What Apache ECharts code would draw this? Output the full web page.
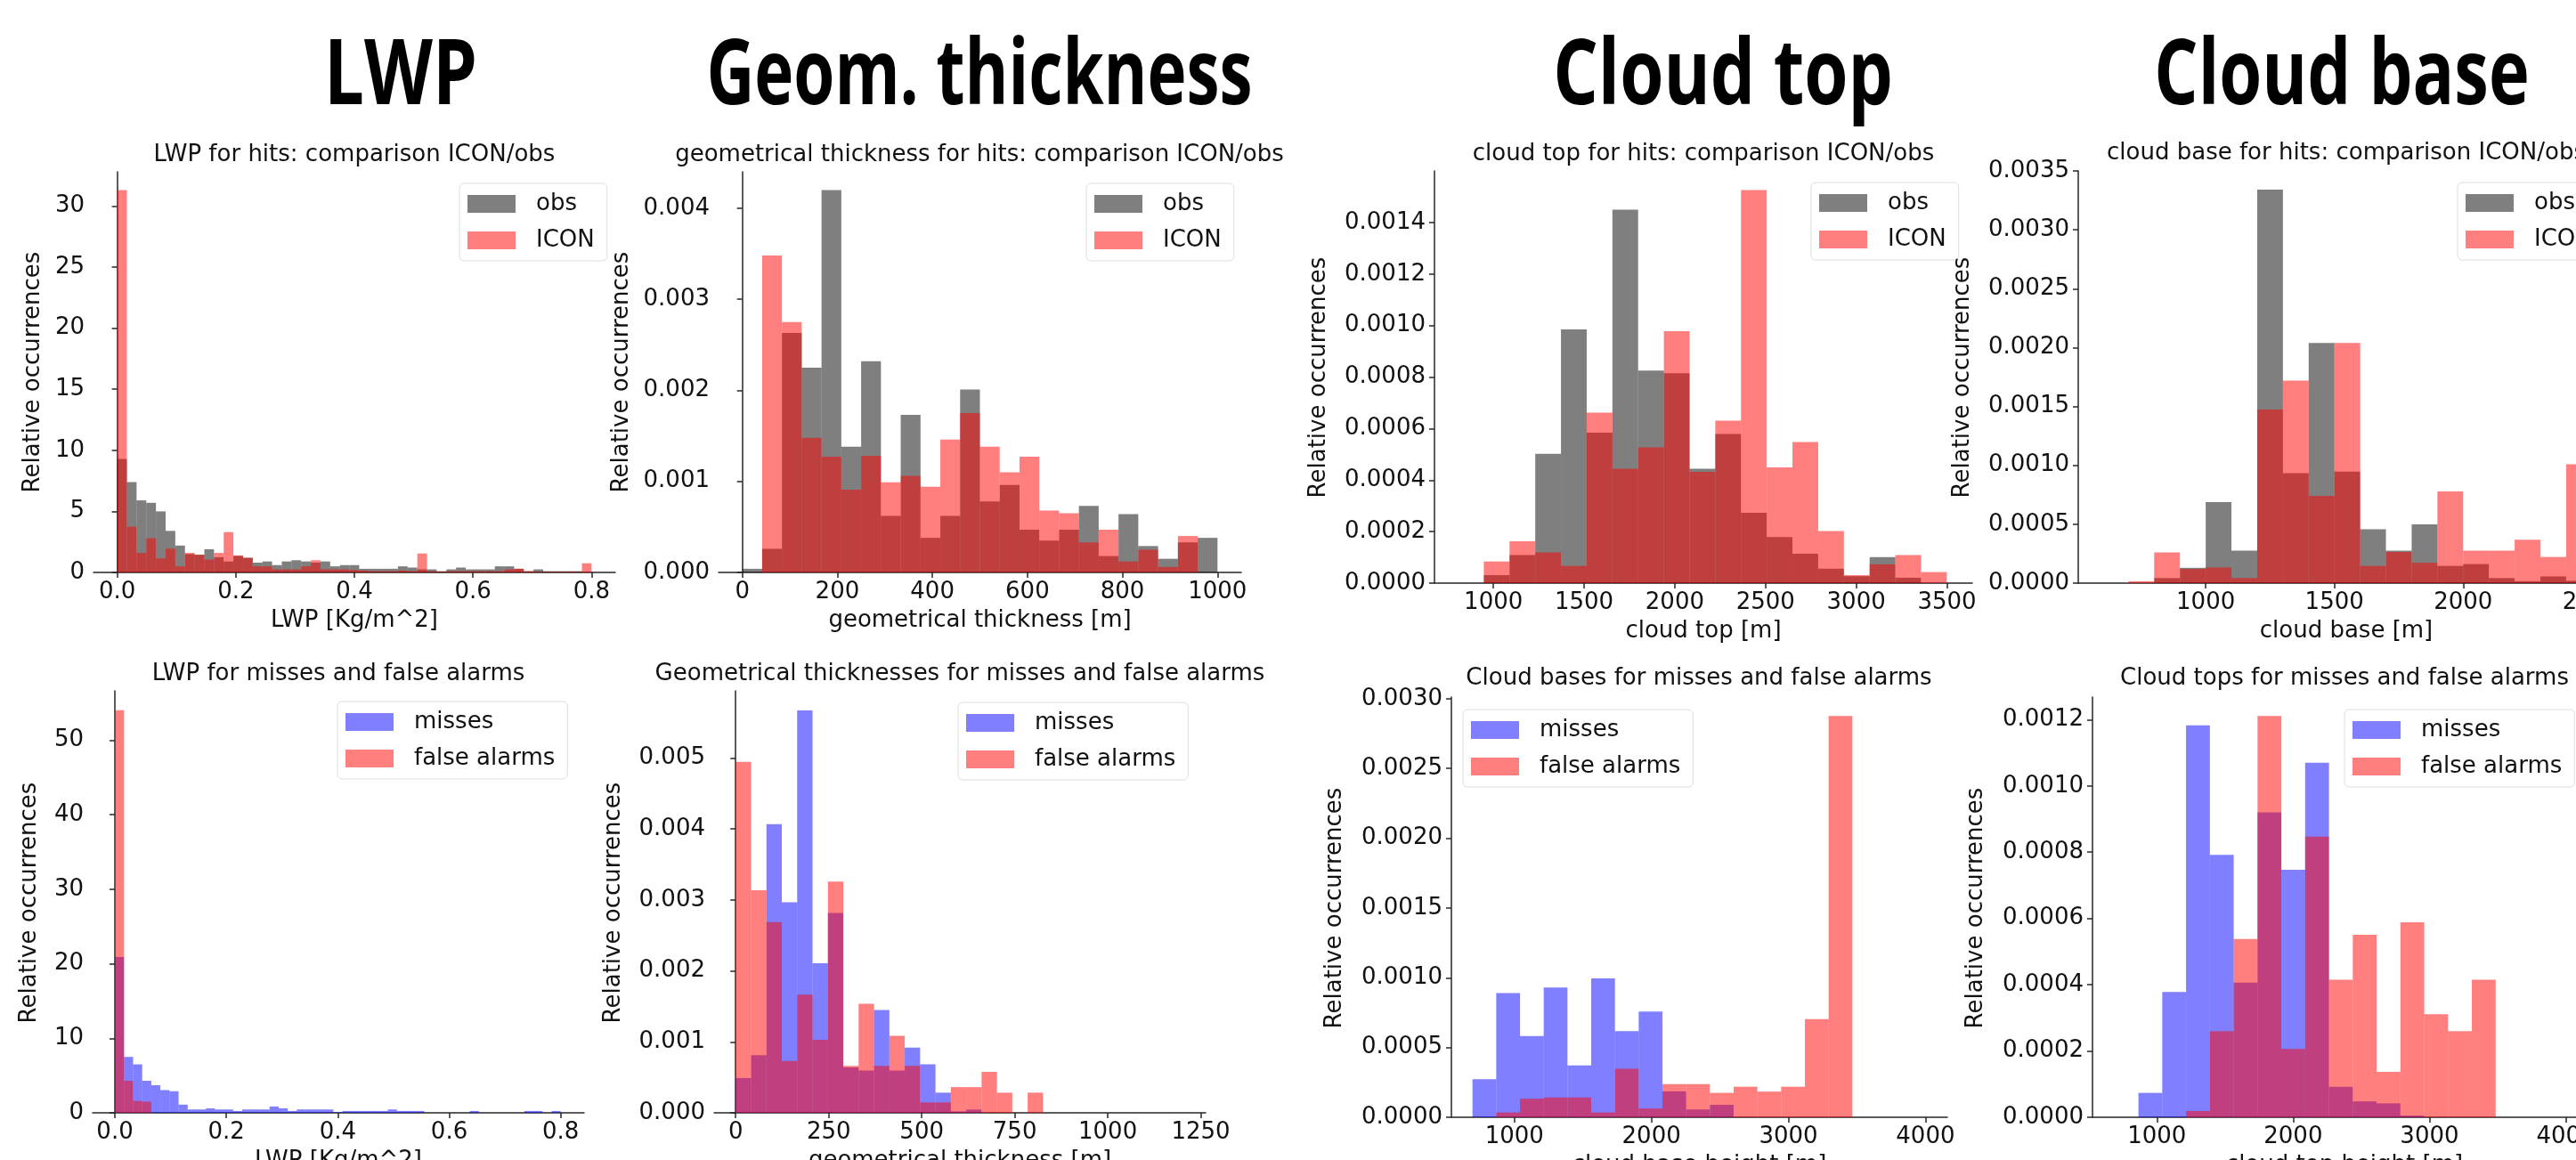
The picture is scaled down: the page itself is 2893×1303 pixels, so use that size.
<!DOCTYPE html>
<html>
<head>
<meta charset="utf-8">
<script src="https://cdn.jsdelivr.net/npm/echarts@6/dist/echarts.min.js"></script>
<style>
    html, body { margin: 0; padding: 0; background: #fff; }
    #chart { width: 2893px; height: 1303px; }
</style>
</head>
<body>
<div id="chart"></div>
<script>
// ---- values (relative occurrences per bin) ----
var lwpHitsObs = [9.3, 7.4, 5.9, 5.7, 5.0, 3.4, 2.2, 1.5, 1.45, 1.9, 1.25, 0.9, 1.35, 1.2, 0.8, 0.9, 0.6, 0.9, 1.0, 0.9,
    0.8, 0.9, 0.5, 0.6, 0.6, 0.3, 0.3, 0.3, 0.3, 0.5, 0.4, 0.25, 0.25, 0.1, 0.25, 0.4, 0.25, 0.25, 0.25, 0.5,
    0.5, 0.3, 0.1, 0.25, 0.1, 0.1, 0.1, 0.1, 0.05];
var lwpHitsIcon = [31.3, 3.75, 1.6, 2.8, 1.15, 1.95, 0.5, 1.6, 1.45, 1.05, 1.6, 3.3, 1.4, 1.2, 0.5, 0.5, 0.25, 0.25, 0.25, 0.5,
    1.0, 0.25, 0.25, 0.25, 0.2, 0.15, 0.1, 0.1, 0.1, 0.15, 0.1, 1.55, 0.1, 0.05, 0.1, 0.1, 0.1, 0.1, 0.1, 0.1,
    0.25, 0.3, 0.1, 0.05, 0.05, 0.05, 0.05, 0.05, 0.75];

var geomHitsObs = [0.00004, 0.00026, 0.00263, 0.00225, 0.0042, 0.00138, 0.00232, 0.00062, 0.00173, 0.00038, 0.00062, 0.00201,
    0.00078, 0.00096, 0.00047, 0.00035, 0.00047, 0.00073, 0.00018, 0.00064, 0.00029, 0.00015, 0.00033, 0.00038];
var geomHitsIcon = [0, 0.00348, 0.00275, 0.00148, 0.00127, 0.00091, 0.00128, 0.00099, 0.00106, 0.00094, 0.00146, 0.00175,
    0.00138, 0.0011, 0.00127, 0.00068, 0.00065, 0.00033, 0.00047, 0.00012, 0.00025, 0.00006, 0.0004, 0];

var topHitsObs = [0.000031, 0.000109, 0.000502, 0.000985, 0.000584, 0.00145, 0.000825, 0.000815, 0.000444, 0.000579,
    0.000273, 0.000179, 0.000114, 0.000056, 0.000027, 0.000101, 0.000021, 0];
var topHitsIcon = [0.000084, 0.000162, 0.000119, 0.000067, 0.000662, 0.000444, 0.000527, 0.000978, 0.000432, 0.000631,
    0.001526, 0.000449, 0.000548, 0.000202, 0.000031, 0.000073, 0.000109, 0.000043];

var baseHitsObs = [0, 0.000043, 0.00013, 0.000687, 0.000276, 0.003342, 0.000933, 0.002039, 0.000946, 0.000457,
    0.000276, 0.000498, 0.000146, 0.000162, 0.000043, 0.000016, 0.000057, 0.00002];
var baseHitsIcon = [0.000016, 0.00026, 0.00012, 0.000133, 0.000043, 0.001474, 0.00172, 0.000741, 0.00204, 0.000146,
    0.000265, 0.000173, 0.000779, 0.000276, 0.000276, 0.000368, 0.000222, 0.00101];

var lwpMisses = [20.9, 7.5, 6.5, 4.3, 3.7, 3.05, 2.9, 1.1, 0.45, 0.45, 0.6, 0.45, 0.45, 0.25, 0.45, 0.45, 0.45, 0.85, 0.6, 0.25,
    0.45, 0.45, 0.45, 0.45, 0.1, 0.25, 0.25, 0.25, 0.25, 0.25, 0.45, 0.25, 0.25, 0.25, 0, 0, 0, 0, 0, 0.25,
    0, 0, 0, 0, 0, 0.25, 0.25, 0, 0.25];
var lwpFalse = [54, 4.3, 1.6, 1.5, 0, 0, 0, 0, 0, 0, 0, 0, 0, 0, 0, 0, 0, 0, 0, 0,
    0, 0, 0, 0, 0, 0, 0, 0, 0, 0, 0, 0, 0, 0, 0, 0, 0, 0, 0, 0,
    0, 0, 0, 0, 0, 0, 0, 0, 0];

var geomMisses = [0.00049, 0.000811, 0.004065, 0.002965, 0.005669, 0.002108, 0.002814, 0.00064, 0.000596, 0.001448,
    0.000596, 0.000917, 0.000683, 0.000284, 0.00002, 0.000046, 0, 0, 0, 0];
var geomFalse = [0.004945, 0.003135, 0.002686, 0.000729, 0.001664, 0.001027, 0.003258, 0.00066, 0.001535, 0.00066,
    0.001086, 0.00066, 0.000147, 0.000147, 0.000362, 0.000362, 0.000577, 0.000284, 0, 0.000284];

var baseMisses = [0.000273, 0.00089, 0.000583, 0.00093, 0.000371, 0.000995, 0.000618, 0.000758, 0.000186, 0.000056,
    0.000089, 0, 0, 0, 0, 0];
var baseFalse = [0, 0.000035, 0.000133, 0.000142, 0.000142, 0.000035, 0.000347, 0.000063, 0.000238, 0.000238,
    0.000175, 0.000219, 0.000184, 0.000219, 0.000704, 0.002876];

var topMisses = [0.0000736, 0.000378, 0.001183, 0.000792, 0.000406, 0.00092, 0.000747, 0.00107, 0.000092, 0.000048,
    0.000042, 0.000005, 0, 0, 0];
var topFalse = [0, 0, 0.000019, 0.00026, 0.000538, 0.001211, 0.000206, 0.000847, 0.000415, 0.000551,
    0.000137, 0.000588, 0.000311, 0.00026, 0.000415];

// ---- tick labels ----
var lwpTicks = [0, 0.2, 0.4, 0.6, 0.8];
var geomHitsTicks = [0, 200, 400, 600, 800, 1000];
var topHitsTicks = [1000, 1500, 2000, 2500, 3000, 3500];
var baseHitsTicks = [1000, 1500, 2000, 2500];
var geomMissTicks = [0, 250, 500, 750, 1000, 1250];
var heightMissTicks = [1000, 2000, 3000, 4000];

var yLwpHits = [0, 5, 10, 15, 20, 25, 30];
var yGeomHits = [0, 0.001, 0.002, 0.003, 0.004];
var yTopHits = [0, 0.0002, 0.0004, 0.0006, 0.0008, 0.001, 0.0012, 0.0014];
var yBaseHits = [0, 0.0005, 0.001, 0.0015, 0.002, 0.0025, 0.003, 0.0035];
var yLwpMiss = [0, 10, 20, 30, 40, 50];
var yGeomMiss = [0, 0.001, 0.002, 0.003, 0.004, 0.005];
var yBaseMiss = [0, 0.0005, 0.001, 0.0015, 0.002, 0.0025, 0.003];
var yTopMiss = [0, 0.0002, 0.0004, 0.0006, 0.0008, 0.001, 0.0012];

var columnTitles = ['LWP', 'Geom. thickness', 'Cloud top', 'Cloud base'];

var GRAY = 'rgba(0,0,0,0.5)';
var RED = 'rgba(255,0,0,0.5)';
var BLUE = 'rgba(0,0,255,0.5)';
var FONT = "'DejaVu Sans', sans-serif";
var INK = '#111';

var panels = [
    {title: 'LWP for hits: comparison ICON/obs', xName: 'LWP [Kg/m^2]',
        left: 105, top: 193, width: 586, height: 450, xMin: -0.04, xMax: 0.84, yMax: 32.8,
        xTicks: lwpTicks, xDec: 1, yTicks: yLwpHits, yDec: 0, binStart: 0, binStep: 0.8 / 49,
        a: lwpHitsObs, b: lwpHitsIcon, names: ['obs', 'ICON'], colors: [GRAY, RED],
        legend: [516, 206], titlePos: [398, 174], xNameY: 697, yNamePos: [37, 418]},
    {title: 'geometrical thickness for hits: comparison ICON/obs', xName: 'geometrical thickness [m]',
        left: 807, top: 193, width: 587, height: 450, xMin: -50, xMax: 1050, yMax: 0.0044,
        xTicks: geomHitsTicks, xDec: 0, yTicks: yGeomHits, yDec: 3, binStart: 0, binStep: 1000 / 24,
        a: geomHitsObs, b: geomHitsIcon, names: ['obs', 'ICON'], colors: [GRAY, RED],
        legend: [1220, 206], titlePos: [1100, 174], xNameY: 697, yNamePos: [698, 418]},
    {title: 'cloud top for hits: comparison ICON/obs', xName: 'cloud top [m]',
        left: 1611, top: 192, width: 604, height: 463, xMin: 675, xMax: 3640, yMax: 0.0016,
        xTicks: topHitsTicks, xDec: 0, yTicks: yTopHits, yDec: 4, binStart: 947, binStep: 141.8,
        a: topHitsObs, b: topHitsIcon, names: ['obs', 'ICON'], colors: [GRAY, RED],
        legend: [2034, 205], titlePos: [1913, 173], xNameY: 709, yNamePos: [1481, 424]},
    {title: 'cloud base for hits: comparison ICON/obs', xName: 'cloud base [m]',
        left: 2334, top: 192, width: 602, height: 463, xMin: 505, xMax: 2587, yMax: 0.0035,
        xTicks: baseHitsTicks, xDec: 0, yTicks: yBaseHits, yDec: 4, binStart: 700, binStep: 100,
        a: baseHitsObs, b: baseHitsIcon, names: ['obs', 'ICON'], colors: [GRAY, RED],
        legend: [2760, 205], titlePos: [2635, 172], xNameY: 709, yNamePos: [2204, 424]},
    {title: 'LWP for misses and false alarms', xName: 'LWP [Kg/m^2]',
        left: 104, top: 776, width: 552, height: 474, xMin: -0.04, xMax: 0.842, yMax: 56.6,
        xTicks: lwpTicks, xDec: 1, yTicks: yLwpMiss, yDec: 0, binStart: 0, binStep: 0.8 / 49,
        a: lwpMisses, b: lwpFalse, names: ['misses', 'false alarms'], colors: [BLUE, RED],
        legend: [379, 788], titlePos: [380, 757], xNameY: 1304, yNamePos: [33, 1014]},
    {title: 'Geometrical thicknesses for misses and false alarms', xName: 'geometrical thickness [m]',
        left: 802, top: 776, width: 552, height: 474, xMin: -58, xMax: 1263, yMax: 0.005944,
        xTicks: geomMissTicks, xDec: 0, yTicks: yGeomMiss, yDec: 3, binStart: 0, binStep: 41.3,
        a: geomMisses, b: geomFalse, names: ['misses', 'false alarms'], colors: [BLUE, RED],
        legend: [1076, 789], titlePos: [1078, 757], xNameY: 1304, yNamePos: [689, 1014]},
    {title: 'Cloud bases for misses and false alarms', xName: 'cloud base height [m]',
        left: 1630, top: 783, width: 557, height: 472, xMin: 540, xMax: 4160, yMax: 0.003012,
        xTicks: heightMissTicks, xDec: 0, yTicks: yBaseMiss, yDec: 4, binStart: 694, binStep: 173.3,
        a: baseMisses, b: baseFalse, names: ['misses', 'false alarms'], colors: [BLUE, RED],
        legend: [1643, 797], titlePos: [1908, 762], xNameY: 1309, yNamePos: [1499, 1020]},
    {title: 'Cloud tops for misses and false alarms', xName: 'cloud top height [m]',
        left: 2350, top: 783, width: 566, height: 472, xMin: 528, xMax: 4225, yMax: 0.001268,
        xTicks: heightMissTicks, xDec: 0, yTicks: yTopMiss, yDec: 4, binStart: 865, binStep: 174.7,
        a: topMisses, b: topFalse, names: ['misses', 'false alarms'], colors: [BLUE, RED],
        legend: [2633, 797], titlePos: [2633, 762], xNameY: 1309, yNamePos: [2219, 1020]}
];

function toBins(start, step, values) {
    var out = [];
    for (var i = 0; i < values.length; i++) {
        out.push([start + i * step, start + (i + 1) * step, values[i]]);
    }
    return out;
}

function renderBin(params, api) {
    var p0 = api.coord([api.value(0), api.value(2)]);
    var p1 = api.coord([api.value(1), 0]);
    return {
        type: 'rect',
        shape: {x: p0[0], y: p0[1], width: p1[0] - p0[0], height: p1[1] - p0[1]},
        style: {fill: api.visual('color')}
    };
}

var axisLineStyle = {color: '#262626', width: 1.5};
var grids = [], xAxes = [], yAxes = [], series = [], legends = [], texts = [];

panels.forEach(function (p, i) {
    grids.push({left: p.left, top: p.top, width: p.width, height: p.height, outerBoundsMode: 'none', containLabel: false});
    xAxes.push({
        type: 'value', gridIndex: i, min: p.xMin, max: p.xMax,
        splitLine: {show: false},
        axisLine: {show: true, onZero: false, lineStyle: axisLineStyle},
        axisTick: {show: true, length: 6, customValues: p.xTicks, lineStyle: axisLineStyle},
        axisLabel: {customValues: p.xTicks, margin: 9, fontSize: 26, fontFamily: FONT, color: INK,
            formatter: function (v) { return v.toFixed(p.xDec); }}
    });
    yAxes.push({
        type: 'value', gridIndex: i, min: 0, max: p.yMax,
        splitLine: {show: false},
        axisLine: {show: true, lineStyle: axisLineStyle},
        axisTick: {show: true, length: 6, customValues: p.yTicks, lineStyle: axisLineStyle},
        axisLabel: {customValues: p.yTicks, margin: 10, fontSize: 26, fontFamily: FONT, color: INK,
            formatter: function (v) { return v.toFixed(p.yDec); }}
    });
    [p.a, p.b].forEach(function (vals, k) {
        series.push({
            type: 'custom', name: p.names[k], xAxisIndex: i, yAxisIndex: i,
            itemStyle: {color: p.colors[k]},
            renderItem: renderBin,
            encode: {x: [0, 1], y: 2},
            data: toBins(p.binStart, p.binStep, vals),
            silent: true
        });
    });
    legends.push({
        orient: 'vertical', left: p.legend[0], top: p.legend[1], data: p.names,
        icon: 'rect', itemWidth: 54, itemHeight: 20, itemGap: 15,
        padding: [10, 14, 10, 9], borderColor: '#dedede', borderWidth: 1, borderRadius: 5,
        backgroundColor: '#fff', selectedMode: false,
        textStyle: {fontSize: 26, fontFamily: FONT, color: INK, padding: [0, 0, 0, 18]}
    });
    texts.push({type: 'text', x: p.titlePos[0], y: p.titlePos[1], z: 10,
        style: {text: p.title, font: '26px ' + FONT, fill: INK, textAlign: 'center', textVerticalAlign: 'middle'}});
    texts.push({type: 'text', x: p.left + p.width / 2, y: p.xNameY, z: 10,
        style: {text: p.xName, font: '26px ' + FONT, fill: INK, textAlign: 'center', textVerticalAlign: 'middle'}});
    texts.push({type: 'text', x: p.yNamePos[0], y: p.yNamePos[1], rotation: Math.PI / 2, z: 10,
        style: {text: 'Relative occurrences', font: '26px ' + FONT, fill: INK, textAlign: 'center', textVerticalAlign: 'middle'}});
});

// the cloud-top picture is pasted over the end of the geometrical thickness title
texts.push({type: 'rect', shape: {x: 1447, y: 155, width: 14, height: 35}, style: {fill: '#fff'}, z: 11});

// column headings
var headingX = [450, 1100, 1935, 2630];
var headingScale = [0.78, 0.73, 0.78, 0.76];
columnTitles.forEach(function (t, i) {
    texts.push({type: 'text', x: headingX[i], y: 88, scaleX: headingScale[i], z: 10,
        style: {text: t, font: 'bold 102px "Open Sans", sans-serif', fill: '#000', textAlign: 'center', textVerticalAlign: 'middle'}});
});

var mychart = echarts.init(document.getElementById('chart'));
mychart.setOption({
    animation: false,
    backgroundColor: '#fff',
    grid: grids,
    xAxis: xAxes,
    yAxis: yAxes,
    legend: legends,
    series: series,
    graphic: texts
});
</script>
</body>
</html>
